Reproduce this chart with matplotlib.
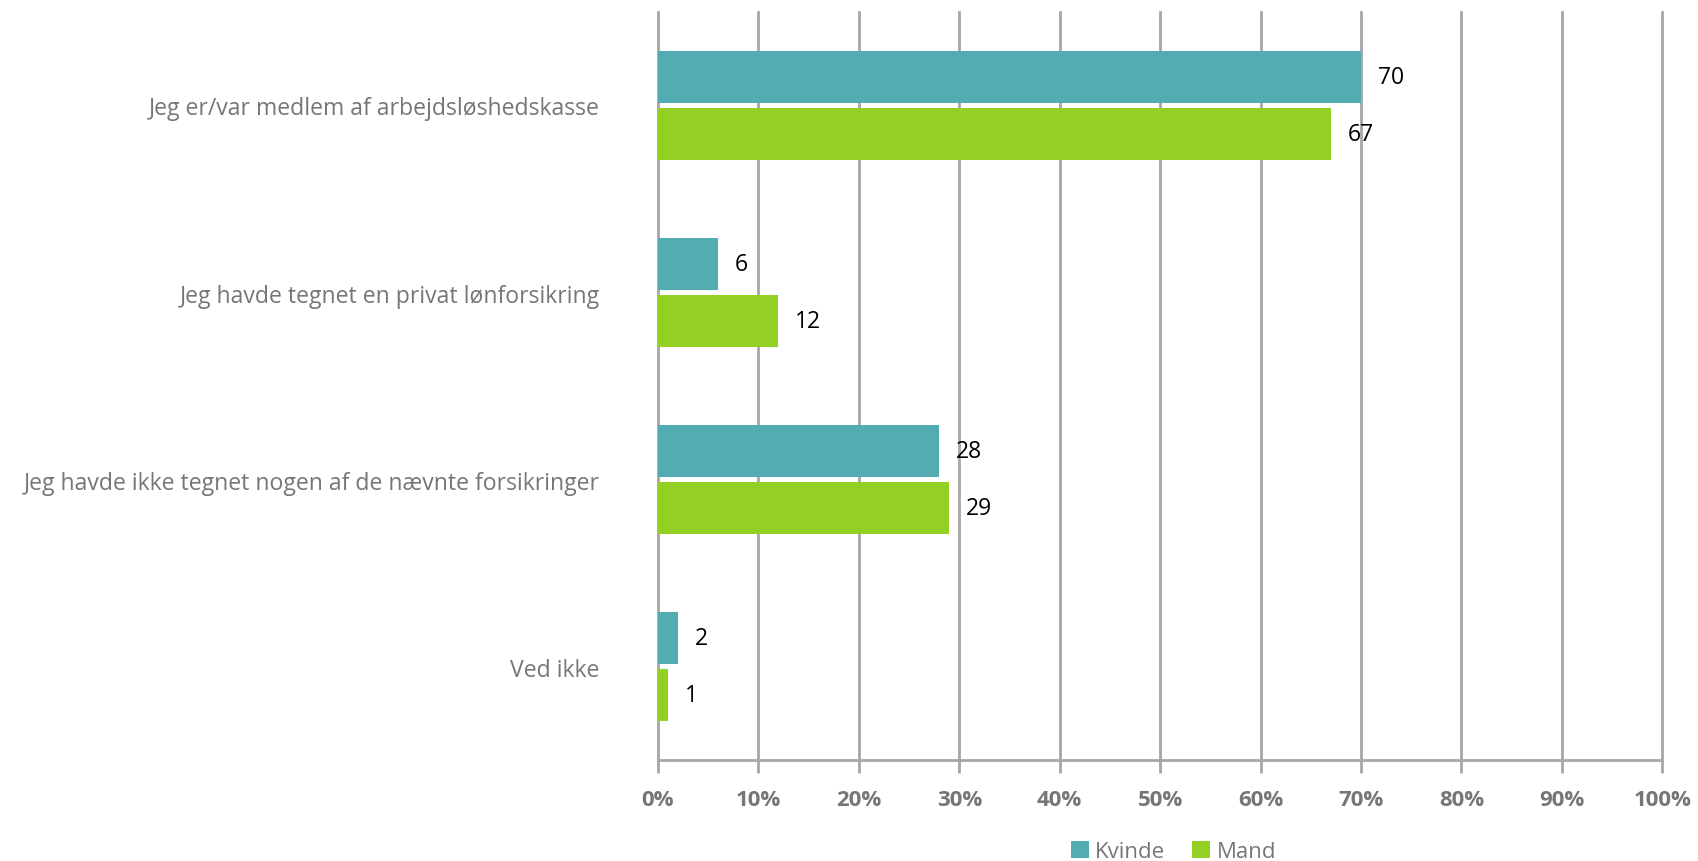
import numpy as np
import matplotlib.pyplot as plt
from matplotlib.ticker import PercentFormatter

categories = [
    "Jeg er/var medlem af arbejdsløshedskasse",
    "Jeg havde tegnet en privat lønforsikring",
    "Jeg havde ikke tegnet nogen af de nævnte forsikringer",
    "Ved ikke",
]
kvinde = [70, 6, 28, 2]
mand = [67, 12, 29, 1]
series_names = ["Kvinde", "Mand"]
x_ticks = list(range(0, 101, 10))

plt.rcParams['font.family'] = ['Open Sans', 'DejaVu Sans']

fig = plt.figure(figsize=(16.98, 8.62), dpi=100)
ax = fig.add_axes([0.3875, 0.117, 0.5915, 0.868])

y = np.arange(len(categories))
h = 0.278
gap = 0.015
b1 = ax.barh(y - h / 2 - gap, kvinde, height=h, color="#53ACB1", label=series_names[0], zorder=3)
b2 = ax.barh(y + h / 2 + gap, mand, height=h, color="#94D024", label=series_names[1], zorder=3)

for bars in (b1, b2):
    ax.bar_label(bars, padding=12, fontsize=16.5, color="black")

ax.set_ylim(len(categories) - 0.5, -0.5)
ax.set_xlim(0, 100)
ax.set_xticks(x_ticks)
ax.xaxis.set_major_formatter(PercentFormatter(decimals=0))
ax.set_yticks(y)
ax.set_yticklabels(categories, fontsize=16.6, color="#767676")
ax.tick_params(axis="y", length=0, pad=42)
ax.tick_params(axis="x", length=9, width=2, color="#A6A6A6", pad=12, labelsize=16, labelcolor="#767676")
for lab in ax.get_xticklabels():
    lab.set_fontweight("bold")

ax.grid(axis="x", color="#A6A6A6", linewidth=2, zorder=0)
for line in ax.get_xgridlines():
    line.set_clip_on(False)
for side in ("top", "right", "left"):
    ax.spines[side].set_visible(False)
ax.spines["bottom"].set_color("#A6A6A6")
ax.spines["bottom"].set_linewidth(2)

fig.legend(handles=[b1, b2], labels=series_names, loc="center", bbox_to_anchor=(0.691, 0.011),
           ncol=2, frameon=False, fontsize=16, labelcolor="#767676",
           handlelength=0.8, handleheight=0.8, handletextpad=0.3, columnspacing=1.2)

fig.savefig("out.png", dpi=100)
